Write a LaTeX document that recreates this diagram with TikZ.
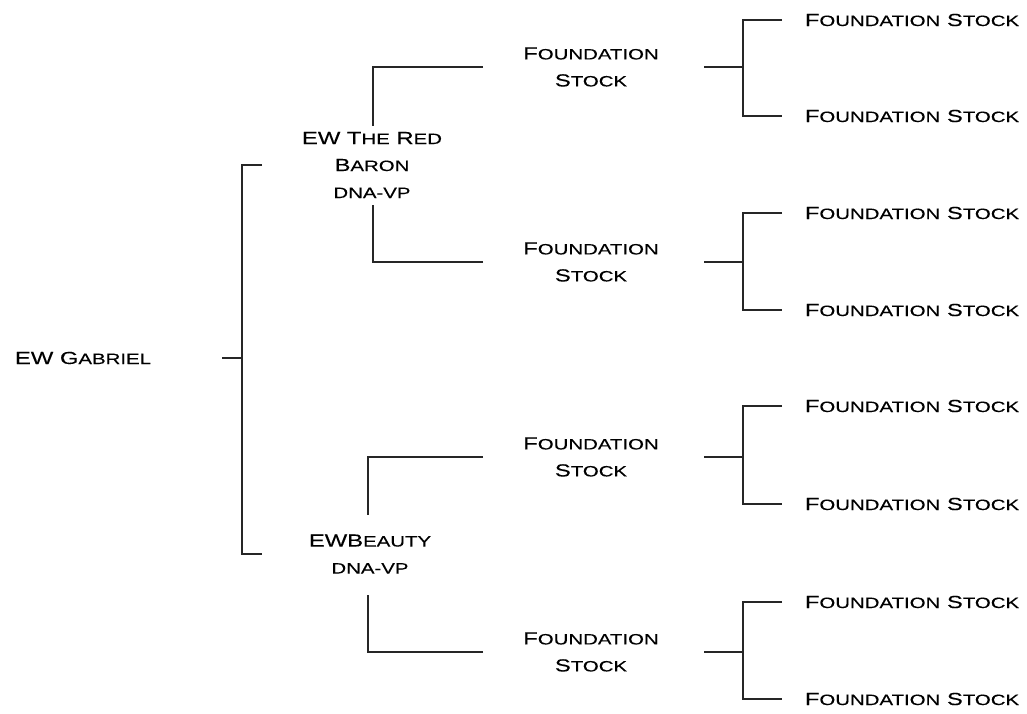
\documentclass[tikz,border=0pt]{standalone}
\usepackage{fontspec}
\setmainfont{Liberation Sans}[FakeStretch=1.36,FakeBold=0.25]
\newcommand\lc[1]{{\fontsize{15}{27}\selectfont #1}}
\begin{document}
\begin{tikzpicture}[x=1pt,y=-1pt,
  lbl/.style={inner sep=0pt, align=center, text=black, font=\fontsize{17.5}{27}\selectfont},
  ln/.style={draw=black!85, line width=1.3pt}]
\useasboundingbox (0,0) rectangle (1027,713);
% nodes
\node[lbl] (gab) at (83,358) {EW G\lc{ABRIEL}};
\node[lbl] (red) at (372,165) {EW T\lc{HE} R\lc{ED}\\B\lc{ARON}\\\lc{DNA-VP}};
\node[lbl] (bea) at (370,554) {EWB\lc{EAUTY}\\\lc{DNA-VP}};
\foreach \i/\y in {1/67,2/262,3/457,4/652}
  \node[lbl] (fs\i) at (591,\y) {F\lc{OUNDATION}\\S\lc{TOCK}};
\foreach \i/\y in {1/20,2/116,3/213,4/310,5/406,6/504,7/602,8/699}
  \node[lbl] (l\i) at (912,\y) {F\lc{OUNDATION} S\lc{TOCK}};
% connectors
\draw[ln] ([xshift=139pt]gab.center) -- ++(20,0) coordinate (gj);
\draw[ln] ([xshift=20pt]gj |- red.center) -- (gj |- red.center) -- (gj |- bea.center) -- ++(20,0);
\draw[ln] ([xshift=-108pt]fs1.center) -| ([xshift=1pt,yshift=39pt]red.center);
\draw[ln] ([xshift=-108pt]fs2.center) -| ([xshift=1pt,yshift=-40pt]red.center);
\draw[ln] ([xshift=-108pt]fs3.center) -| ([xshift=-2pt,yshift=39pt]bea.center);
\draw[ln] ([xshift=-108pt]fs4.center) -| ([xshift=-2pt,yshift=-41pt]bea.center);
\foreach \i/\a/\b in {1/1/2,2/3/4,3/5/6,4/7/8}{
  \draw[ln] ([xshift=113pt]fs\i.center) -- ++(39,0) coordinate (r\i);
  \draw[ln] ([xshift=-130pt]l\a.center) -| (r\i) |- ([xshift=-130pt]l\b.center);
}
\end{tikzpicture}
\end{document}
